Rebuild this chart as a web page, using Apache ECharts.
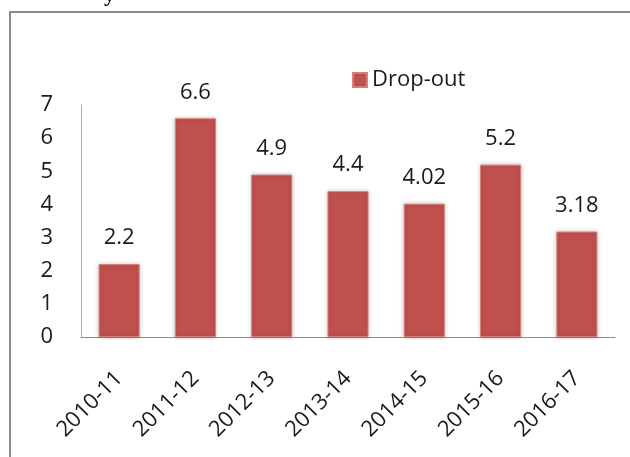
<!DOCTYPE html>
<html>
<head>
<meta charset="utf-8">
<script src="https://cdn.jsdelivr.net/npm/echarts@6/dist/echarts.min.js"></script>
<style>
  html, body { margin: 0; padding: 0; background: #fff; }
  #chart { width: 630px; height: 457px; }
</style>
</head>
<body>
<div id="chart"></div>
<script>
  const years = ['2010-11', '2011-12', '2012-13', '2013-14', '2014-15', '2015-16', '2016-17'];
  const dropOut = [2.2, 6.6, 4.9, 4.4, 4.02, 5.2, 3.18];
  const dropOutLabels = ['2.2', '6.6', '4.9', '4.4', '4.02', '5.2', '3.18'];

  const font = 'Open Sans';
  const chart = echarts.init(document.getElementById('chart'), null, { renderer: 'canvas' });

  chart.setOption({
    backgroundColor: '#fff',
    animation: false,
    graphic: [
      {
        type: 'rect',
        shape: { x: 10, y: 12, width: 700, height: 600 },
        style: { fill: 'none', stroke: '#8c8c8c', lineWidth: 2 },
        silent: true,
      },
      {
        type: 'text',
        left: 104,
        top: -16,
        style: { text: 'y', font: 'bold 22px "Liberation Serif"', fill: '#000' },
        silent: true,
      },
    ],
    legend: {
      left: 347,
      top: 64,
      itemWidth: 14,
      itemHeight: 14,
      itemGap: 8,
      icon: 'rect',
      textStyle: { fontFamily: font, fontSize: 22, color: '#1a1a1a' },
      data: ['Drop-out'],
    },
    grid: { left: 81, right: 15, top: 105, bottom: 120 },
    xAxis: {
      type: 'category',
      data: years,
      axisLine: { lineStyle: { color: '#8c8c8c', width: 1 } },
      axisTick: { show: false },
      axisLabel: {
        rotate: 45,
        interval: 0,
        margin: 38,
        fontFamily: font,
        fontSize: 22,
        color: '#1a1a1a',
      },
    },
    yAxis: {
      type: 'value',
      min: 0,
      max: 7,
      interval: 1,
      axisLine: { show: true, lineStyle: { color: '#b0b0b0', width: 1 } },
      axisTick: { show: false },
      splitLine: { show: false },
      axisLabel: { margin: 28, fontFamily: font, fontSize: 22, color: '#1a1a1a' },
    },
    series: [
      {
        name: 'Drop-out',
        type: 'bar',
        data: dropOut,
        barWidth: 41,
        itemStyle: {
          color: '#c0504d',
          borderColor: '#d77f7c',
          borderWidth: 1,
          shadowColor: 'rgba(0,0,0,0.25)',
          shadowBlur: 4,
        },
        label: {
          show: true,
          position: 'top',
          distance: 15,
          fontFamily: font,
          fontSize: 22,
          color: '#1a1a1a',
          formatter: (p) => dropOutLabels[p.dataIndex],
        },
      },
    ],
  });
</script>
</body>
</html>
